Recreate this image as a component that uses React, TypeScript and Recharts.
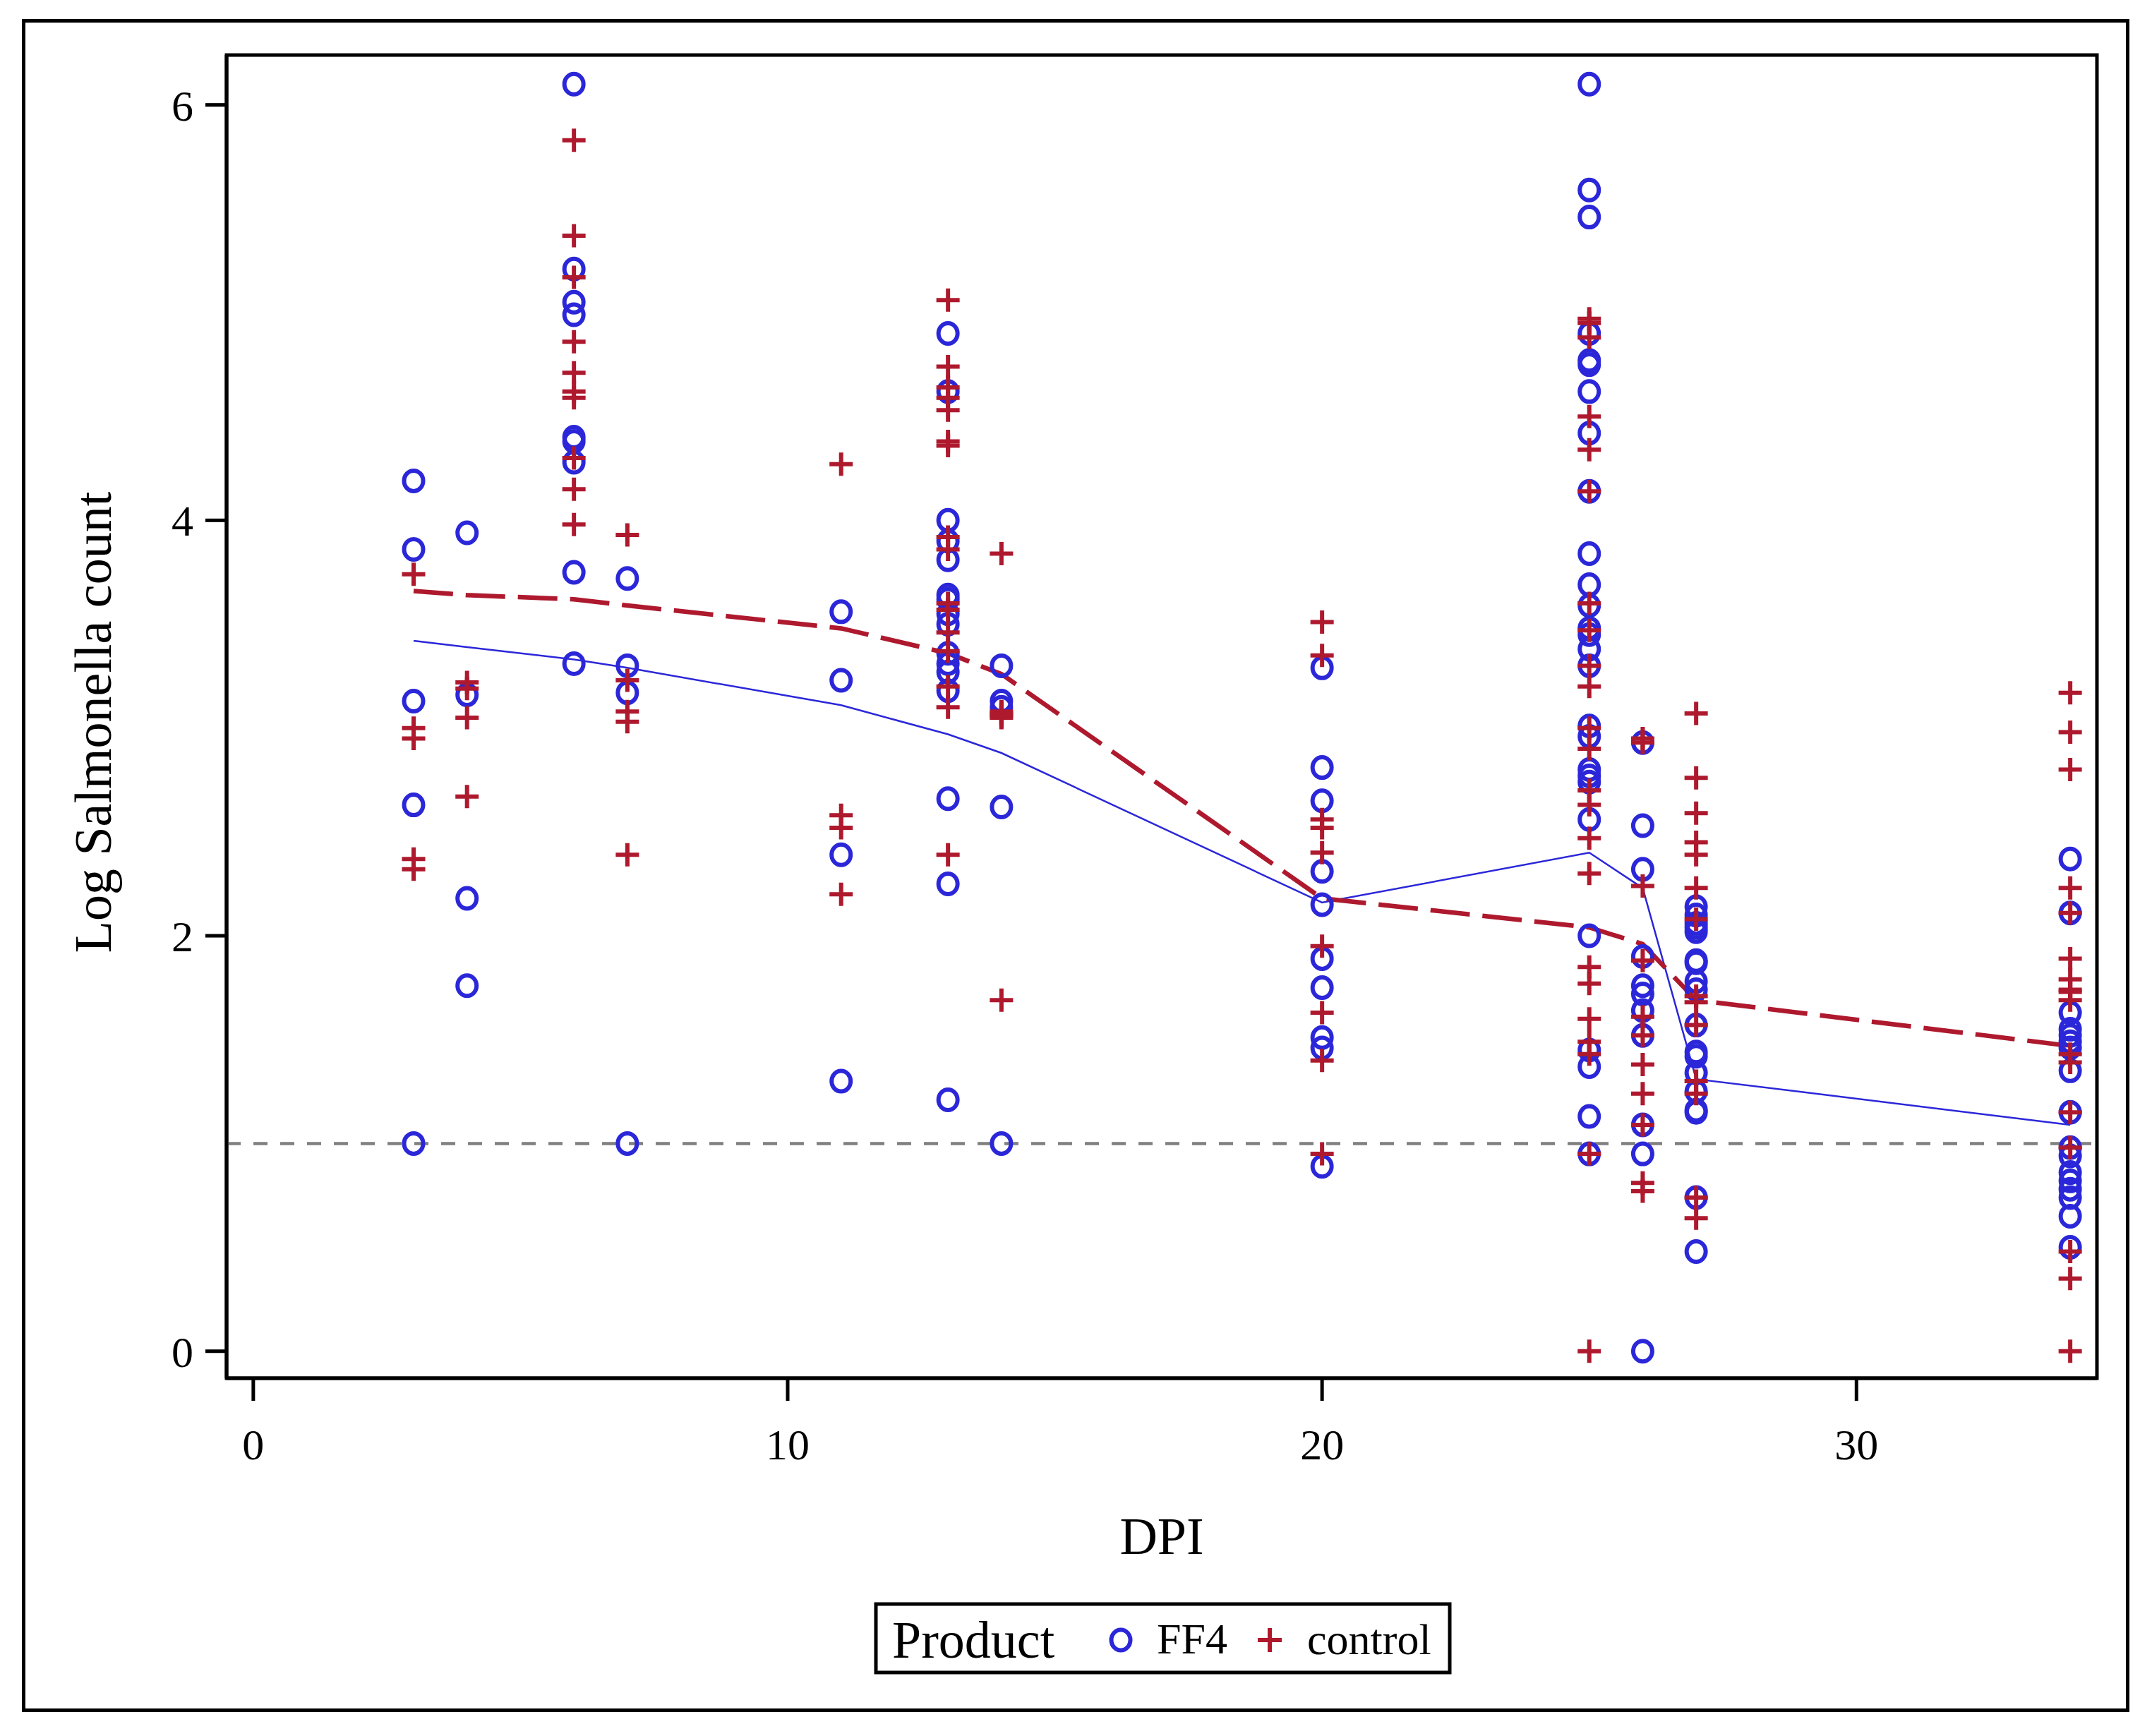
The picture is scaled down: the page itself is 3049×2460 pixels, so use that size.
import React from 'react';
import {
  ComposedChart,
  Scatter,
  Line,
  XAxis,
  YAxis,
  ReferenceLine,
  ReferenceArea,
} from 'recharts';

// days post infection that were sampled
const dpiDays = [3, 4, 6, 7, 11, 13, 14, 20, 25, 26, 27, 34];

// log Salmonella counts per sampled day, FF4 product
const ff4Values = [
  [4.19, 3.86, 3.13, 2.63, 1.0],
  [3.94, 3.16, 2.18, 1.76],
  [6.1, 5.21, 5.05, 4.99, 4.4, 4.38, 4.28, 3.75, 3.31],
  [3.72, 3.3, 3.17, 1.0],
  [3.56, 3.23, 2.39, 1.3],
  [4.9, 4.62, 4.0, 3.9, 3.81, 3.64, 3.62, 3.55, 3.5, 3.36, 3.31, 3.27, 3.18, 2.66, 2.25, 1.21],
  [3.3, 3.13, 3.1, 2.62, 1.0],
  [3.29, 2.81, 2.65, 2.31, 2.15, 1.89, 1.75, 1.51, 1.46, 0.89],
  [6.1, 5.59, 5.46, 4.9, 4.77, 4.75, 4.62, 4.42, 4.14, 3.84, 3.69, 3.59, 3.48, 3.45, 3.38, 3.3, 3.01, 2.96, 2.8, 2.77, 2.74, 2.56, 2.0, 1.45, 1.37, 1.13, 0.95],
  [2.93, 2.53, 2.32, 1.9, 1.76, 1.72, 1.64, 1.52, 1.09, 0.95, 0.0],
  [2.14, 2.1, 2.06, 2.04, 2.02, 1.88, 1.87, 1.78, 1.74, 1.57, 1.44, 1.42, 1.34, 1.25, 1.16, 1.15, 0.74, 0.48],
  [2.37, 2.11, 1.63, 1.55, 1.52, 1.49, 1.46, 1.35, 1.15, 0.98, 0.94, 0.86, 0.82, 0.78, 0.74, 0.65, 0.5],
];

// log Salmonella counts per sampled day, control
const controlValues = [
  [3.74, 3.0, 2.95, 2.37, 2.32],
  [3.22, 3.19, 3.05, 2.67],
  [5.83, 5.37, 5.17, 4.86, 4.71, 4.62, 4.59, 4.3, 4.15, 3.98],
  [3.93, 3.23, 3.08, 3.03, 2.39],
  [4.27, 2.58, 2.52, 2.2],
  [5.06, 4.74, 4.64, 4.59, 4.53, 4.38, 4.36, 3.92, 3.86, 3.6, 3.57, 3.46, 3.37, 3.2, 3.1, 2.39],
  [3.84, 3.08, 3.07, 3.06, 3.05, 1.69],
  [3.51, 3.35, 2.56, 2.52, 2.4, 1.95, 1.63, 1.4, 0.95],
  [4.97, 4.95, 4.88, 4.5, 4.34, 4.14, 3.6, 3.47, 3.3, 3.2, 3.0, 2.9, 2.7, 2.63, 2.47, 2.3, 1.85, 1.77, 1.6, 1.49, 1.43, 0.95, 0.0],
  [2.95, 2.93, 2.24, 1.88, 1.61, 1.52, 1.38, 1.24, 1.09, 0.81, 0.77],
  [3.07, 2.76, 2.59, 2.45, 2.39, 2.23, 2.08, 1.71, 1.68, 1.57, 1.3, 1.24, 0.74, 0.64],
  [3.17, 2.98, 2.8, 2.23, 2.11, 1.89, 1.79, 1.74, 1.73, 1.69, 1.43, 1.39, 1.15, 0.98, 0.48, 0.35, 0.0],
];

// trend lines per sampled day
const ff4Trend = [3.42, 3.39, 3.33, 3.29, 3.11, 2.97, 2.88, 2.16, 2.4, 2.23, 1.31, 1.09];
const controlTrend = [3.66, 3.64, 3.62, 3.59, 3.48, 3.36, 3.26, 2.18, 2.04, 1.96, 1.69, 1.47];

const xTicks = [0, 10, 20, 30];
const yTicks = [0, 2, 4, 6];
const detectionLimit = 1;

const BLUE = '#2B27D9';
const RED = '#AE192E';
const FONT = '"Liberation Serif", "Times New Roman", serif';

const ff4Points = dpiDays.flatMap((d, i) => ff4Values[i].map((v) => ({ x: d, y: v })));
const controlPoints = dpiDays.flatMap((d, i) => controlValues[i].map((v) => ({ x: d, y: v })));
const ff4Line = dpiDays.map((d, i) => ({ x: d, y: ff4Trend[i] }));
const controlLine = dpiDays.map((d, i) => ({ x: d, y: controlTrend[i] }));

const CircleMark = (props: any) => {
  const { cx, cy } = props;
  if (cx == null || cy == null) return null;
  return <ellipse cx={cx} cy={cy} rx={13.5} ry={14.5} fill="none" stroke={BLUE} strokeWidth={6} />;
};

const PlusMark = (props: any) => {
  const { cx, cy } = props;
  if (cx == null || cy == null) return null;
  const h = 16.5;
  return (
    <path
      d={`M${cx - h},${cy}H${cx + h}M${cx},${cy - h}V${cy + h}`}
      stroke={RED}
      strokeWidth={6}
      fill="none"
    />
  );
};

const YTitle = (props: any) => {
  const vb = props.viewBox || {};
  const cy = (vb.y ?? 78) + (vb.height ?? 1875) / 2 + 8;
  return (
    <text
      transform={`translate(157, ${cy}) rotate(-90)`}
      textAnchor="middle"
      fontFamily={FONT}
      fontSize={74}
      fill="#000"
    >
      Log Salmonella count
    </text>
  );
};

const LegendBox = () => (
  <svg
    width={830}
    height={110}
    style={{ position: 'absolute', left: 1233, top: 2266 }}
  >
    <rect x={8} y={7} width={813} height={97} fill="#fff" stroke="#000" strokeWidth={5} />
    <text x={31} y={83} fontFamily={FONT} fontSize={74} fill="#000">
      Product
    </text>
    <ellipse cx={355} cy={58} rx={13.5} ry={14.5} fill="none" stroke={BLUE} strokeWidth={6} />
    <text x={406} y={77} fontFamily={FONT} fontSize={62} fill="#000">
      FF4
    </text>
    <path d="M549,58H583M566,41V75" stroke={RED} strokeWidth={6} fill="none" />
    <text x={619} y={78} fontFamily={FONT} fontSize={62} fill="#000">
      control
    </text>
  </svg>
);

export default function App() {
  const tickStyle = { fill: '#000', fontSize: 62, fontFamily: FONT };
  return (
    <div
      style={{
        position: 'absolute',
        left: 0,
        top: 0,
        width: 3049,
        height: 2460,
        background: '#fff',
      }}
    >
      <div
        style={{
          position: 'absolute',
          left: 31,
          top: 27,
          width: 2986,
          height: 2399,
          border: '5px solid #000',
          boxSizing: 'border-box',
        }}
      />
      <div style={{ position: 'absolute', left: 0, top: 0 }}>
        <ComposedChart
          width={3049}
          height={2460}
          margin={{ top: 78, right: 78, bottom: 0, left: 0 }}
        >
          <XAxis
            type="number"
            dataKey="x"
            domain={[-0.5, 34.5]}
            ticks={xTicks}
            interval={0}
            allowDataOverflow
            height={507}
            tickSize={32}
            tickMargin={39}
            axisLine={{ stroke: '#000', strokeWidth: 5 }}
            tickLine={{ stroke: '#000', strokeWidth: 5 }}
            tick={tickStyle}
            label={{
              value: 'DPI',
              position: 'insideTop',
              offset: 196,
              fontSize: 74,
              fontFamily: FONT,
              fill: '#000',
            }}
          />
          <YAxis
            type="number"
            dataKey="y"
            domain={[-0.13, 6.24]}
            ticks={yTicks}
            interval={0}
            allowDataOverflow
            width={321}
            tickSize={30}
            tickMargin={17}
            axisLine={{ stroke: '#000', strokeWidth: 5 }}
            tickLine={{ stroke: '#000', strokeWidth: 5 }}
            tick={tickStyle}
            label={<YTitle />}
          />
          <ReferenceLine
            y={detectionLimit}
            stroke="#808080"
            strokeWidth={4.5}
            strokeDasharray="20 18"
          />
          <Scatter
            name="FF4"
            data={ff4Points}
            dataKey="y"
            shape={CircleMark}
            isAnimationActive={false}
          />
          <Scatter
            name="control"
            data={controlPoints}
            dataKey="y"
            shape={PlusMark}
            isAnimationActive={false}
          />
          <Line
            data={ff4Line}
            dataKey="y"
            type="linear"
            stroke={BLUE}
            strokeWidth={2.5}
            dot={false}
            activeDot={false}
            isAnimationActive={false}
          />
          <Line
            data={controlLine}
            dataKey="y"
            type="linear"
            stroke={RED}
            strokeWidth={6.5}
            strokeDasharray="56 18"
            dot={false}
            activeDot={false}
            isAnimationActive={false}
          />
          <ReferenceArea
            x1={-0.5}
            x2={34.5}
            y1={-0.13}
            y2={6.24}
            ifOverflow="visible"
            fill="none"
            fillOpacity={0}
            stroke="#000"
            strokeWidth={5}
          />
        </ComposedChart>
      </div>
      <LegendBox />
    </div>
  );
}
